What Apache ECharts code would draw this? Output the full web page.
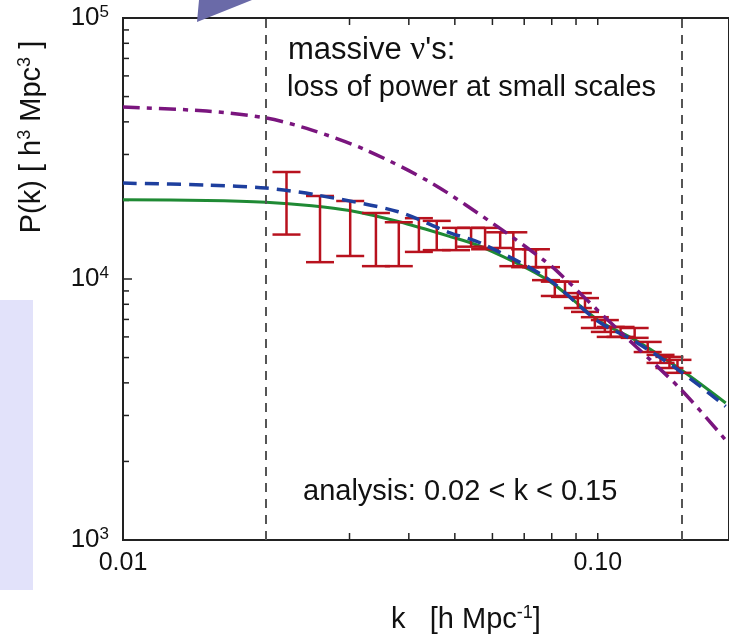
<!DOCTYPE html>
<html><head><meta charset="utf-8">
<script src="https://cdn.jsdelivr.net/npm/echarts@6/dist/echarts.min.js"></script>
<style>html,body{margin:0;padding:0;background:#fff}#c{width:729px;height:638px}</style>
</head><body><div id="c"></div>
<script>
// ---- data ----
const kGreen = [0.01, 0.015, 0.02, 0.025, 0.03, 0.038, 0.0485, 0.0568, 0.0785, 0.1, 0.12, 0.15, 0.186];
const pGreen = [20100, 20000, 19700, 19100, 18300, 16600, 14600, 13300, 9900, 6970, 5830, 4480, 3350];

const kBlue = [0.01, 0.015, 0.02, 0.0255, 0.038, 0.0485, 0.0568, 0.078, 0.1, 0.12, 0.15, 0.186];
const pBlue = [23300, 22900, 22300, 21000, 18100, 15100, 13700, 10100, 6900, 5750, 4400, 3250];

const kPurple = [0.01, 0.015, 0.02, 0.025, 0.0325, 0.0447, 0.0617, 0.077, 0.0824, 0.1034, 0.12, 0.15, 0.186];
const pPurple = [45600, 44000, 41400, 37200, 31200, 23300, 15800, 11800, 10650, 7150, 5540, 3760, 2415];

const errK    = [0.0221, 0.0260, 0.0301, 0.0341, 0.0381, 0.0420, 0.0458, 0.0503, 0.0541, 0.0579, 0.0623, 0.0664, 0.0703, 0.0741, 0.0778, 0.0812, 0.0853, 0.0908, 0.0940, 0.0986, 0.1035, 0.1065, 0.1117, 0.1196, 0.1274, 0.1356, 0.1416, 0.1472];
const errHigh = [25700, 20800, 19900, 17900, 16500, 17100, 16700, 15700, 15700, 15700, 15100, 15100, 13000, 13000, 11100, 9770, 9770, 8830, 8450, 7140, 6960, 6550, 6550, 6490, 5740, 5120, 5030, 4900];
const errLow  = [14800, 11600, 12250, 11200, 11200, 12700, 12900, 12900, 13300, 13000, 13150, 11200, 11100, 11100, 9900, 8610, 8540, 7740, 7480, 6490, 6270, 6000, 6000, 5950, 5250, 4770, 4560, 4370];

const cutK = [0.02, 0.15];
const xTickVals = [0.02, 0.03, 0.04, 0.05, 0.06, 0.07, 0.08, 0.09, 0.1];
const yTickVals = [2000, 3000, 4000, 5000, 6000, 7000, 8000, 9000, 10000, 20000, 30000, 40000, 50000, 60000, 70000, 80000, 90000];

const xTitle = '{m|k   [h Mpc}{s|-1}{m|]}';
const yTitle = '{m|P(k) [ h}{s|3}{m| Mpc}{s|3}{m| ]}';

// ---- chart ----
const FONT = 'Liberation Sans, Arial, sans-serif';
const chart = echarts.init(document.getElementById('c'), null, {renderer: 'canvas'});
const isPow10 = v => Math.abs(Math.log10(v) - Math.round(Math.log10(v))) < 1e-6;

const option = {
  animation: false,
  backgroundColor: '#ffffff',
  grid: {left: 123, top: 18, right: -3, bottom: 98, show: true, borderColor: '#222', borderWidth: 2, backgroundColor: 'transparent'},
  xAxis: {
    type: 'log', logBase: 10, min: 0.01, max: 0.189,
    axisLine: {show: true, lineStyle: {color: '#222', width: 2}},
    axisTick: {show: false}, splitLine: {show: false},
    axisLabel: {
      showMaxLabel: false, margin: 11, color: '#111', fontSize: 25, fontFamily: FONT,
      formatter: v => isPow10(v) ? (Math.abs(v - 0.1) < 1e-9 ? '0.10' : v.toFixed(2)) : ''
    }
  },
  yAxis: {
    type: 'log', logBase: 10, min: 1000, max: 100000,
    axisLine: {show: true, lineStyle: {color: '#222', width: 2}},
    axisTick: {show: false}, splitLine: {show: false},
    axisLabel: {
      margin: 14, color: '#111', fontFamily: FONT,
      formatter: v => isPow10(v) ? '{b|10}{s|' + Math.round(Math.log10(v)) + '}' : '',
      rich: {
        b: {fontSize: 26, lineHeight: 29, fontFamily: FONT, color: '#111'},
        s: {fontSize: 17, lineHeight: 17, verticalAlign: 'top', fontFamily: FONT, color: '#111'}
      }
    }
  },
  graphic: [
    {type: 'rect', shape: {x: 0, y: 300, width: 33, height: 290}, style: {fill: '#e2e2fa'}, z: -1},
    {type: 'polygon', shape: {points: [[199, 0], [252, 0], [197, 22]]}, style: {fill: '#6a6aa8'}, z: 100},
    {type: 'text', x: 288, y: 50, style: {
      text: '{a|massive }{n|ν}{a|\'s:}', verticalAlign: 'middle', align: 'left',
      rich: {a: {fontSize: 31, fontFamily: FONT, fill: '#111'}, n: {fontSize: 33, fontFamily: 'Liberation Serif, DejaVu Serif, serif', fill: '#111'}}
    }},
    {type: 'text', x: 287, y: 88, style: {text: 'loss of power at small scales', font: '29px ' + FONT, fill: '#111', verticalAlign: 'middle', align: 'left'}},
    {type: 'text', x: 303, y: 492, style: {text: 'analysis: 0.02 < k < 0.15', font: '29px ' + FONT, fill: '#111', verticalAlign: 'middle', align: 'left'}},
    {type: 'text', x: 466, y: 620, style: {
      text: xTitle, align: 'center', verticalAlign: 'middle',
      rich: {m: {fontSize: 29, lineHeight: 32, fontFamily: FONT, fill: '#111'}, s: {fontSize: 18, lineHeight: 18, verticalAlign: 'top', fontFamily: FONT, fill: '#111'}}
    }},
    {type: 'text', x: 32, y: 137, rotation: Math.PI / 2, style: {
      text: yTitle, align: 'center', verticalAlign: 'middle',
      rich: {m: {fontSize: 29, lineHeight: 32, fontFamily: FONT, fill: '#111'}, s: {fontSize: 18, lineHeight: 18, verticalAlign: 'top', fontFamily: FONT, fill: '#111'}}
    }}
  ],
  series: [
    {
      type: 'line', name: 'cuts', data: [], silent: true,
      markLine: {
        silent: true, symbol: 'none', animation: false,
        label: {show: false},
        lineStyle: {color: '#555', type: [9, 7], width: 2},
        data: cutK.map(k => ({xAxis: k}))
      }
    },
    {
      type: 'custom', name: 'xticks', silent: true, clip: false,
      encode: {x: 0, y: 1},
      data: xTickVals.map(k => [k, 1000]),
      renderItem: (params, api) => {
        const b = api.coord([api.value(0), 1000]);
        const t = api.coord([api.value(0), 100000]);
        const st = {stroke: '#222', lineWidth: 1.5};
        return {type: 'group', children: [
          {type: 'line', shape: {x1: b[0], y1: b[1], x2: b[0], y2: b[1] - 7}, style: st},
          {type: 'line', shape: {x1: t[0], y1: t[1], x2: t[0], y2: t[1] + 7}, style: st}
        ]};
      }
    },
    {
      type: 'custom', name: 'yticks', silent: true, clip: false,
      encode: {x: 0, y: 1},
      data: yTickVals.map(p => [0.01, p]),
      renderItem: (params, api) => {
        const p = api.coord([0.01, api.value(1)]);
        const len = isPow10(api.value(1)) ? 9 : 6;
        return {type: 'line', shape: {x1: p[0], y1: p[1], x2: p[0] + len, y2: p[1]}, style: {stroke: '#222', lineWidth: 1.5}};
      }
    },
    {
      type: 'line', name: 'green', smooth: 0.3, showSymbol: false, symbol: 'none',
      data: kGreen.map((k, i) => [k, pGreen[i]]),
      lineStyle: {color: '#1f8a34', width: 3, type: 'solid'}, z: 3
    },
    {
      type: 'custom', name: 'data', silent: true,
      encode: {x: 0, y: [1, 2]},
      data: errK.map((k, i) => [k, errLow[i], errHigh[i]]),
      renderItem: (params, api) => {
        const k = api.value(0);
        const lo = api.coord([k, api.value(1)]);
        const hi = api.coord([k, api.value(2)]);
        const w = 14;
        const st = {stroke: '#b8121e', lineWidth: 2.5};
        return {type: 'group', children: [
          {type: 'line', shape: {x1: lo[0], y1: lo[1], x2: hi[0], y2: hi[1]}, style: st},
          {type: 'line', shape: {x1: lo[0] - w, y1: lo[1], x2: lo[0] + w, y2: lo[1]}, style: st},
          {type: 'line', shape: {x1: hi[0] - w, y1: hi[1], x2: hi[0] + w, y2: hi[1]}, style: st}
        ]};
      }, z: 4
    },
    {
      type: 'line', name: 'blue', smooth: 0.3, showSymbol: false, symbol: 'none',
      data: kBlue.map((k, i) => [k, pBlue[i]]),
      lineStyle: {color: '#1e3f9e', width: 3.5, type: [14, 8]}, z: 5
    },
    {
      type: 'line', name: 'purple', smooth: 0.3, showSymbol: false, symbol: 'none',
      data: kPurple.map((k, i) => [k, pPurple[i]]),
      lineStyle: {color: '#7a157e', width: 3.5, type: [17, 7, 5, 7]}, z: 5
    }
  ]
};
chart.setOption(option);
</script>
</body></html>
